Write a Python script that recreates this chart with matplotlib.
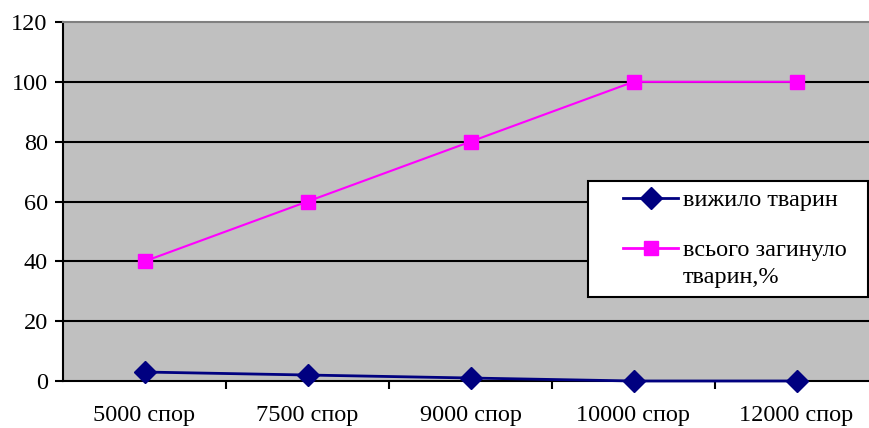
import matplotlib
matplotlib.use("Agg")
from matplotlib import pyplot as plt
from matplotlib.patches import Rectangle
from matplotlib.lines import Line2D

categories = ["5000 спор", "7500 спор", "9000 спор", "10000 спор", "12000 спор"]
survived = [3, 2, 1, 0, 0]
died_pct = [40, 60, 80, 100, 100]
yticks = [0, 20, 40, 60, 80, 100, 120]
labels = ["вижило тварин", "всього загинуло\nтварин,%"]

plt.rcParams['font.family'] = ['Liberation Serif', 'DejaVu Serif']
plt.rcParams['font.size'] = 17

W, H = 870, 428
fig = plt.figure(figsize=(W/100, H/100), dpi=100)
# plot area runs a bit past the right edge of the picture, as in the original
ax = fig.add_axes([63/W, 1 - 381/H, 815/W, 359/H])
ax.set_facecolor('#c0c0c0')

blue = '#000080'
pink = '#ff00ff'
x = list(range(len(categories)))
ax.plot(x, survived, color=blue, marker='D', markersize=11, linewidth=2,
        zorder=3, clip_on=False)
ax.plot(x, died_pct, color=pink, marker='s', markersize=10.5, linewidth=1.5,
        zorder=3, clip_on=False)

ax.set_ylim(0, 120)
ax.set_xlim(-0.5, len(categories) - 0.5)
ax.set_yticks(yticks)
for v in yticks[1:-1]:
    ax.axhline(v, color='black', linewidth=1.5, zorder=1)

ax.set_xticks([i + 0.5 for i in range(len(categories) - 1)])
ax.set_xticklabels([])
ax.set_xticks(x, minor=True)
ax.set_xticklabels(categories, minor=True)
ax.tick_params(axis='x', which='minor', length=0, pad=17, labelsize=17.5)
ax.tick_params(axis='x', which='major', length=6, width=1.5, direction='out')
ax.tick_params(axis='y', length=6, width=1.5, direction='out', labelsize=17.5, pad=5)

ax.spines['left'].set_linewidth(1.5)
ax.spines['bottom'].set_linewidth(1.5)
ax.spines['top'].set_color('#808080')
ax.spines['top'].set_linewidth(1.5)
ax.spines['right'].set_visible(False)

# legend box, drawn by hand so the second handle sits on the first text line
def fx(px):
    return px / W

def fy(py):
    return 1 - py / H

tf = fig.transFigure
fig.patches.append(Rectangle((fx(588), fy(297)), fx(868) - fx(588), fy(181) - fy(297),
                             transform=tf, facecolor='white', edgecolor='black',
                             linewidth=1.5, zorder=5))
rows = [(198, blue, 'D', 11), (248, pink, 's', 10.5)]
for (py, col, mk, ms), lab in zip(rows, labels):
    fig.lines.append(Line2D([fx(623), fx(678)], [fy(py), fy(py)], transform=tf,
                            color=col, linewidth=2, zorder=6))
    fig.lines.append(Line2D([fx(651)], [fy(py)], transform=tf, color=col,
                            marker=mk, markersize=ms, zorder=7))
    fig.text(fx(683), fy(py - 8), lab, ha='left', va='top', fontsize=17.5,
             linespacing=1.38, zorder=8)

fig.savefig('out.png', dpi=100)
